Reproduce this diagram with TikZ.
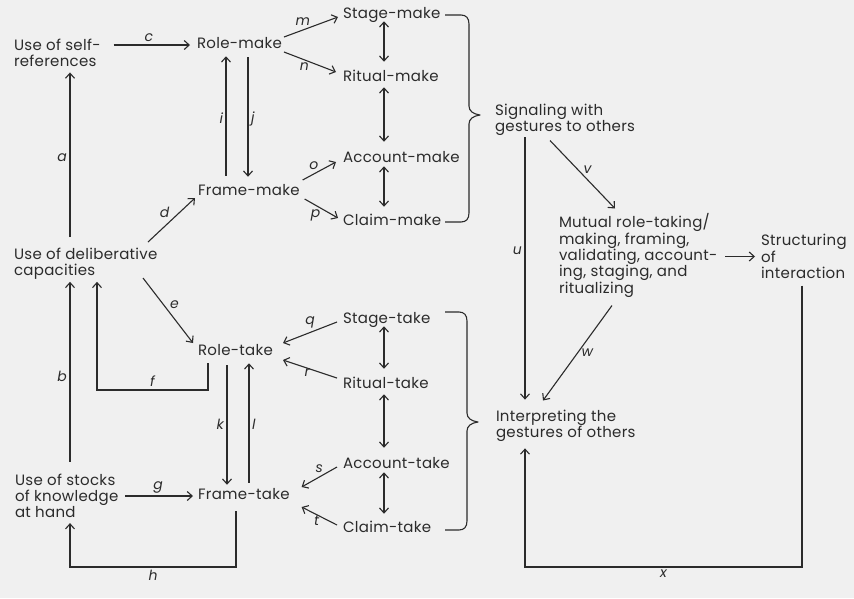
\documentclass[tikz,border=0pt]{standalone}
\usepackage{fontspec}
\setmainfont{Poppins}[LetterSpace=2]
\usetikzlibrary{arrows.meta,calc}
\definecolor{paper}{HTML}{F0F0F0}
\definecolor{ink}{HTML}{2B2B2B}
\begin{document}
\begin{tikzpicture}[x=1pt,y=-1pt,
  txt/.style={anchor=west, inner sep=0pt, outer sep=0pt, text=ink,
    font=\fontsize{15}{16.3}\selectfont},
  word/.style={txt, text height=11pt, text depth=3.5pt},
  block/.style={txt, align=left},
  lab/.style={inner sep=2.5pt, text=ink, font=\fontsize{14}{14}\selectfont\itshape},
  link/.style={draw=ink, line width=1.1pt, -{Straight Barb[length=5pt,width=9pt]}},
  both/.style={draw=ink, line width=1.1pt, {Straight Barb[length=5pt,width=9pt]}-{Straight Barb[length=5pt,width=9pt]}},
  bracket/.style={draw=ink, line width=1.1pt, line join=round},
]
\fill[paper] (0,0) rectangle (854,598);
\useasboundingbox (0,0) rectangle (854,598);

% columns and corners used by the connectors
\coordinate (colA) at (70,0);
\coordinate (colF) at (97,0);
\coordinate (colI) at (226,0);
\coordinate (colJ) at (248,0);
\coordinate (colK) at (227,0);
\coordinate (colL) at (249,0);
\coordinate (colD) at (384,0);
\coordinate (colU) at (525,0);
\coordinate (fcorner) at (97,390);
\coordinate (hcorner) at (70,567);
\coordinate (xcorner) at (525,567);

% left column
\node[block] (self)   at (14,52.5) {Use of self-\\references};
\node[block] (delib)  at (14,264)  {Use of deliberative\\capacities};
\node[block] (stocks) at (15,496)  {Use of stocks\\of knowledge\\at hand};

% making and taking roles and frames
\node[word] (rmake) at (197,45)  {Role-make};
\node[word] (fmake) at (198,192) {Frame-make};
\node[word] (rtake) at (198,352) {Role-take};
\node[word] (ftake) at (198,496) {Frame-take};

% staging, ritual, account and claim
\node[word] (smake) at (343,15)  {Stage-make};
\node[word] (umake) at (343,78)  {Ritual-make};
\node[word] (amake) at (343,159) {Account-make};
\node[word] (cmake) at (343,222) {Claim-make};
\node[word] (stake) at (343,320) {Stage-take};
\node[word] (utake) at (343,385) {Ritual-take};
\node[word] (atake) at (343,465) {Account-take};
\node[word] (ctake) at (343,529) {Claim-take};

% right part
\node[block] (signal) at (495,119.5) {Signaling with\\gestures to others};
\node[block] (mutual) at (559,255.5) {Mutual role-taking/\\making, framing,\\validating, account-\\ing, staging, and\\ritualizing};
\node[block] (struct) at (761,256.5) {Structuring\\of\\interaction};
\node[block] (interp) at (496,425.5) {Interpreting the\\gestures of others};

% left column links
\draw[link, shorten <=11pt, shorten >=6pt] (delib.north -| colA) -- node[lab,left] {a} (self.south -| colA);
\draw[link, shorten <=12pt, shorten >=2pt] (stocks.north -| colA) -- node[lab,left] {b} (delib.south -| colA);
\draw[link, shorten <=13pt, shorten >=7pt] (self.east |- rmake.west) -- node[lab,above] {c} (rmake.west);
\draw[link] ([shift={(134,-22)}]delib.west) -- node[lab,above left=-1pt] {d} ([shift={(-3,6)}]fmake.west);
\draw[link] ([shift={(129,14)}]delib.west) -- node[lab,above right=-1pt] {e} ([shift={(-5,-9)}]rtake.west);
\draw[link, shorten <=4pt, shorten >=2pt] ([xshift=10pt]rtake.south west) |- node[lab,above,pos=0.75] {f} (fcorner) -- (delib.south -| colF);
\draw[link, shorten <=7pt, shorten >=5pt] (stocks.east |- ftake.west) -- node[lab,above] {g} (ftake.west);
\draw[link, shorten <=8pt, shorten >=5pt] ([xshift=38pt]ftake.south west) |- node[lab,below,pos=0.75] {h} (hcorner) -- (stocks.south -| colA);

% between role and frame
\draw[link, shorten <=9pt, shorten >=4pt] (fmake.north -| colI) -- node[lab,left] {i} (rmake.south -| colI);
\draw[link, shorten <=5pt, shorten >=8pt] (rmake.south -| colJ) -- node[lab,right] {j} (fmake.north -| colJ);
\draw[link, shorten <=6pt, shorten >=4pt] (rtake.south -| colK) -- node[lab,left] {k} (ftake.north -| colK);
\draw[link, shorten <=6pt, shorten >=4pt] (ftake.north -| colL) -- node[lab,right] {l} (rtake.south -| colL);

% fan-out on the making side
\draw[link] ([shift={(2,-8)}]rmake.east) -- node[lab,above left=-2pt] {m} ([shift={(-5,2)}]smake.west);
\draw[link] ([shift={(2,7)}]rmake.east) -- node[lab,below left=-2pt] {n} ([shift={(-7,-6)}]umake.west);
\draw[link] ([shift={(3,-12)}]fmake.east) -- node[lab,above left=-2pt] {o} ([shift={(-7,3)}]amake.west);
\draw[link] ([shift={(5,7)}]fmake.east) -- node[lab,below left=-2pt] {p} ([shift={(-5,-4)}]cmake.west);

% fan-in on the taking side
\draw[link] ([shift={(-6,2)}]stake.west) -- node[lab,above=1pt] {q} ([shift={(10,-9)}]rtake.east);
\draw[link] ([shift={(-6,-7)}]utake.west) -- node[lab,below left=-3pt] {r} ([shift={(10,8)}]rtake.east);
\draw[link] ([shift={(-6,2)}]atake.west) -- node[lab,above=1pt] {s} ([shift={(12,-9)}]ftake.east);
\draw[link] ([shift={(-6,-4)}]ctake.west) -- node[lab,below left=-3pt] {t} ([shift={(12,11)}]ftake.east);

% two-way links in the stacks
\draw[both, shorten <=-1pt, shorten >=9pt] (smake.south -| colD) -- (umake.north -| colD);
\draw[both, shorten <=2pt, shorten >=10pt] (umake.south -| colD) -- (amake.north -| colD);
\draw[both, shorten <=0pt, shorten >=8pt] (amake.south -| colD) -- (cmake.north -| colD);
\draw[both, shorten <=-1pt, shorten >=9pt] (stake.south -| colD) -- (utake.north -| colD);
\draw[both, shorten <=2pt, shorten >=10pt] (utake.south -| colD) -- (atake.north -| colD);
\draw[both, shorten <=0pt, shorten >=8pt] (atake.south -| colD) -- (ctake.north -| colD);

% braces gathering each stack
\draw[bracket] (445,15) -- (461,15) .. controls (466,15) and (469,18) .. (469,24)
  -- (469,106) .. controls (469,111) and (473,114) .. (480,115)
  .. controls (473,116) and (469,119) .. (469,124)
  -- (469,213) .. controls (469,219) and (466,222) .. (461,222) -- (445,222);
\draw[bracket] (445,312) -- (459,312) .. controls (464,312) and (467,315) .. (467,321)
  -- (467,413) .. controls (467,418) and (471,421) .. (478,422)
  .. controls (471,423) and (467,426) .. (467,431)
  -- (467,521) .. controls (467,527) and (464,530) .. (459,530) -- (445,530);

% right part links
\draw[link, shorten <=2pt, shorten >=10pt] (signal.south -| colU) -- node[lab,left,pos=0.42] {u} (interp.north -| colU);
\draw[link] ([shift={(55,21)}]signal.west) -- node[lab,above right=-2pt] {v} ([shift={(56,-47)}]mutual.west);
\draw[link] ([shift={(53,50)}]mutual.west) -- node[lab,right=1pt] {w} ([shift={(47,-25)}]interp.west);
\draw[link, shorten <=8pt, shorten >=6pt] (mutual.east |- struct.west) -- (struct.west);
\draw[link, shorten <=7pt, shorten >=7pt] ([xshift=41pt]struct.south west) |- node[lab,below,pos=0.75] {x} (xcorner) -- (interp.south -| colU);
\end{tikzpicture}
\end{document}
